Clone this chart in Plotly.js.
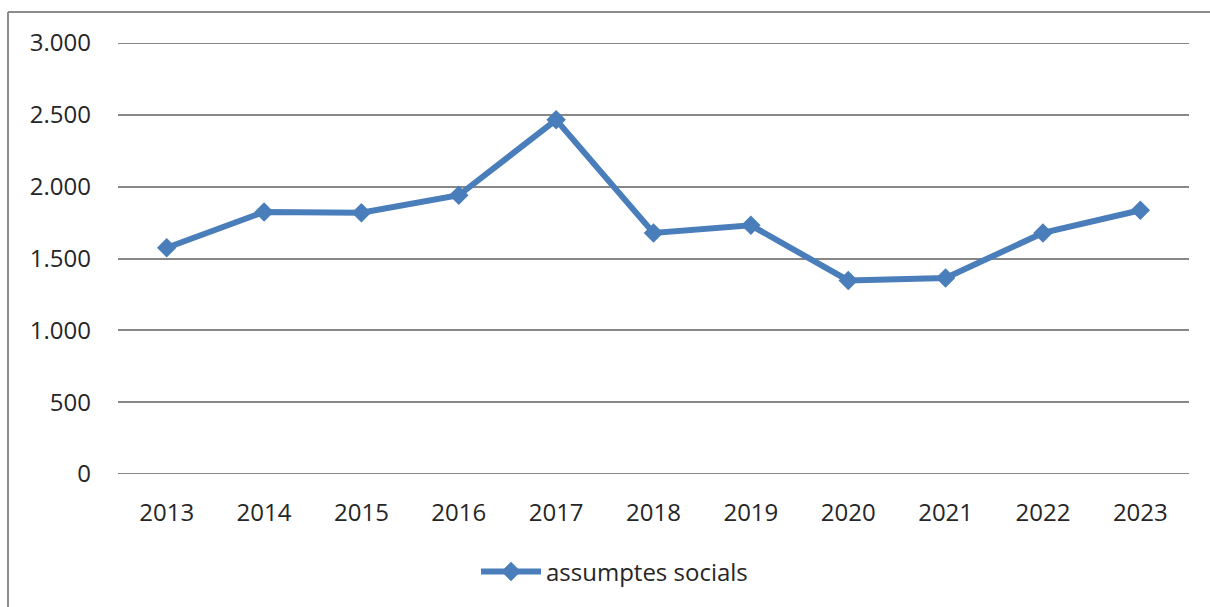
<!DOCTYPE html>
<html>
<head>
<meta charset="utf-8">
<script src="https://cdn.plot.ly/plotly-3.0.1.min.js"></script>
<style>html,body{margin:0;padding:0;background:#fff;}#chart{width:1210px;height:607px;}</style>
</head>
<body>
<div id="chart"></div>
<script>
const years = ["2013","2014","2015","2016","2017","2018","2019","2020","2021","2022","2023"];
const assumptesSocials = [1575, 1824, 1819, 1940, 2465, 1678, 1731, 1347, 1365, 1678, 1836];
const seriesName = "assumptes socials";
const yTickVals = [0, 500, 1000, 1500, 2000, 2500, 3000];
const yTickText = ["0", "500", "1.000", "1.500", "2.000", "2.500", "3.000"];
const yMin = 0, yMax = 3000;

const W = 1210, H = 607;
const mL = 118, mR = 21, mT = 43, mB = 133;
const pw = W - mL - mR, ph = H - mT - mB;
const px = x => (x - mL) / pw;
const py = y => (H - mB - y) / ph;

const font = {family: "Open Sans, Liberation Sans, sans-serif", size: 24, color: "#262626"};
const blue = "#4A7EBB";
const gridColor = "#878787";

const trace = {
  x: years, y: assumptesSocials, name: seriesName,
  type: "scatter", mode: "lines+markers",
  line: {color: blue, width: 6},
  marker: {symbol: "diamond", size: 15, color: blue},
  showlegend: true, cliponaxis: false
};

// Edge gridlines (Plotly omits gridlines lying exactly on the plot edge)
const edgeGrid = [yMin, yMax].map(v => ({
  type: "line", xref: "paper", yref: "y", x0: 0, x1: 1, y0: v, y1: v, layer: "below",
  line: {color: gridColor, width: 2}
}));

const layout = {
  width: W, height: H,
  margin: {l: mL, r: mR, t: mT, b: mB, pad: 0},
  paper_bgcolor: "#fff", plot_bgcolor: "#fff",
  font: font,
  showlegend: true,
  legend: {orientation: "h", x: px(476), xanchor: "left", y: py(572), yanchor: "middle",
           font: font, itemwidth: 60, bgcolor: "rgba(0,0,0,0)"},
  xaxis: {type: "category", range: [-0.5, 10.5], showgrid: false, zeroline: false,
          showline: false, ticks: "", tickfont: font, ticklabelstandoff: 22, fixedrange: true},
  yaxis: {range: [yMin, yMax], tickvals: yTickVals, ticktext: yTickText,
          showgrid: true, gridcolor: gridColor, gridwidth: 2, zeroline: false,
          showline: false, ticks: "", tickfont: font, ticklabelstandoff: 26, fixedrange: true},
  shapes: edgeGrid.concat([
    {type: "line", xref: "paper", yref: "paper", x0: px(8), x1: px(1212), y0: py(12), y1: py(12),
     line: {color: "#8c8c8c", width: 2}},
    {type: "line", xref: "paper", yref: "paper", x0: px(8), x1: px(8), y0: py(12), y1: py(610),
     line: {color: "#8c8c8c", width: 2}}
  ])
};

Plotly.newPlot("chart", [trace], layout, {displayModeBar: false, staticPlot: true});
</script>
</body>
</html>
